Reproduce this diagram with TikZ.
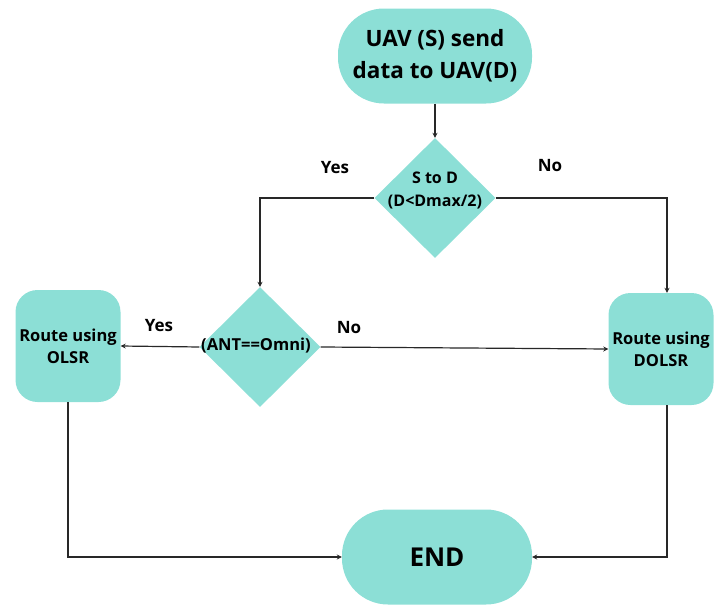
\documentclass[tikz,border=0pt]{standalone}
\usepackage{fontspec}
\setmainfont{Open Sans}
\usetikzlibrary{shapes.geometric,arrows.meta,calc}
\definecolor{teal1}{RGB}{140,223,214}
\definecolor{line1}{RGB}{40,40,40}
\tikzset{
  fillbox/.style={fill=teal1,draw=none},
  term/.style={fillbox,rounded corners=46pt,minimum width=194pt,minimum height=95pt,align=center,font=\bfseries\fontsize{22.5}{32}\selectfont},
  proc/.style={fillbox,rounded corners=22pt,minimum width=105pt,minimum height=112pt,align=center,font=\bfseries\fontsize{16.5}{22}\selectfont},
  dia/.style={fillbox,diamond,inner sep=0pt,minimum width=121pt,minimum height=120pt},
  lbl/.style={align=center,font=\bfseries\fontsize{16}{23}\selectfont,inner sep=0pt},
  yn/.style={font=\bfseries\fontsize{17}{20}\selectfont,inner sep=0pt},
  arr/.style={draw=line1,line width=1.2pt,-{Stealth[length=5pt,width=5pt]}},
}
\begin{document}
\begin{tikzpicture}[x=1pt,y=-1pt]
\useasboundingbox (0,0) rectangle (716,605);
\node[term] (start) at (435,56) {UAV (S) send\\data to UAV(D)};
\node[dia] (d1) at (435,198) {};
\node[lbl] (d1t) at (435,190) {S to D\\(D<Dmax/2)};
\node[dia] (d2) at (260,347) {};
\node[lbl,font=\bfseries\fontsize{16.5}{20}\selectfont] (d2t) at (256,346) {(ANT==Omni)};
\node[proc] (olsr) at (68,346) {Route using\\OLSR};
\node[proc] (dolsr) at (661,349) {Route using\\DOLSR};
\node[term,minimum width=190pt,font=\bfseries\fontsize{26}{30}\selectfont] (end) at (437,557) {END};

\node[yn] (y1) at (335,168) {Yes};
\node[yn] (n1) at (550,166) {No};
\node[yn] (y2) at (159,326) {Yes};
\node[yn] (n2) at (349,328) {No};

\draw[arr] (start.south) -- (d1.north);
\draw[arr] (d1.west) -| (d2.north);
\draw[arr] (d1.east) -| ([xshift=6pt]dolsr.north);
\draw[arr] (d2.west) -- (olsr.east);
\draw[arr] (d2.east) -- (dolsr.west);
\draw[arr] (olsr.south) |- (end.west);
\draw[arr] ([xshift=6pt]dolsr.south) |- (end.east);
\end{tikzpicture}
\end{document}
